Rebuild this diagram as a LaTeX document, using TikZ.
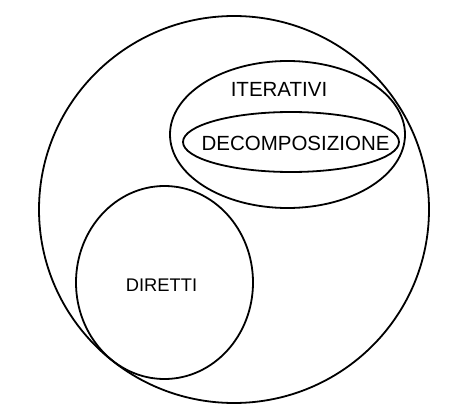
\documentclass[tikz,border=0pt]{standalone}
\usepackage{fontspec}
\setmainfont{Liberation Sans}
\tikzset{
  setline/.style={line width=1.8pt, black},
  setlabel/.style={inner sep=0pt, font=\fontsize{20.5}{24}\selectfont}
}
\begin{document}
\begin{tikzpicture}[x=1pt, y=-1pt]

  % ---- page frame (455 x 420 px) ----
  \useasboundingbox (0, 0) rectangle (455, 420);

  % outer set
  \draw[setline] (234, 209.5) ellipse [x radius=195, y radius=193.5];

  % iterative methods, with decomposition inside
  \draw[setline] (287.5, 134.5) ellipse [x radius=117.5, y radius=73.5];
  \draw[setline] (291, 142) ellipse [x radius=108, y radius=30];

  % direct methods
  \draw[setline] (164.5, 282.5) ellipse [x radius=88.5, y radius=96.5];

  % ---- labels ----
  \node[setlabel] (iter) at (279, 89) {ITERATIVI};
  \node[setlabel] (decomp) at (295.5, 143) {DECOMPOSIZIONE};
  \node[setlabel, font=\fontsize{18.3}{22}\selectfont] (dir) at (161.5, 285) {DIRETTI};

\end{tikzpicture}
\end{document}
